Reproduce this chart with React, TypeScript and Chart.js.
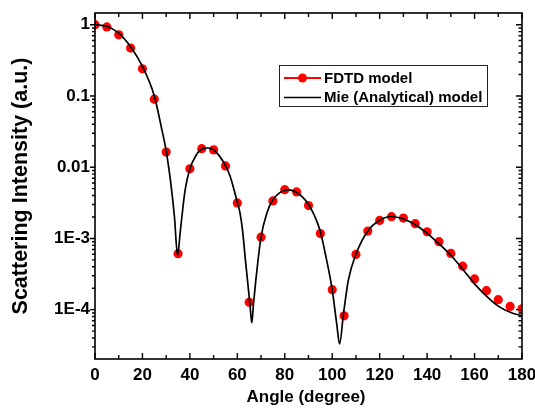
import React, { useEffect, useRef } from "react";
import { Chart, registerables } from "chart.js";
Chart.register(...registerables);

const fdtdAngles = [0, 5, 10, 15, 20, 25, 30, 35, 40, 45, 50, 55, 60, 65, 70, 75, 80, 85, 90, 95, 100, 105, 110, 115, 120, 125, 130, 135, 140, 145, 150, 155, 160, 165, 170, 175, 180];
const fdtdValues = [1.0, 0.93, 0.72, 0.47, 0.24, 0.09, 0.0163, 6.1e-4, 0.0095, 0.0182, 0.0175, 0.0104, 0.00315, 1.27e-4, 1.04e-3, 0.00336, 0.00484, 0.0045, 0.00289, 1.17e-3, 1.91e-4, 8.2e-5, 5.96e-4, 1.27e-3, 1.79e-3, 2.02e-3, 1.93e-3, 1.61e-3, 1.24e-3, 9.0e-4, 6.15e-4, 4.08e-4, 2.7e-4, 1.85e-4, 1.38e-4, 1.11e-4, 1.03e-4];

const mieAngles = [0, 5, 10, 15, 20, 25, 28, 30, 32, 33.5, 34.8, 36, 38, 40, 42.5, 45, 47.5, 50, 52.5, 55, 57, 59.7, 61.1, 62.2, 63.4, 64.5, 65.4, 66.1, 66.8, 67.8, 70, 72.5, 75, 77.5, 80, 82, 85, 87.5, 90, 92.5, 95, 97, 100, 101.9, 103.1, 104.7, 106.8, 110, 115, 120, 125, 130, 135, 140, 145, 150, 155, 160, 165, 170, 175, 180];
const mieValues = [1.0, 0.95, 0.76, 0.49, 0.26, 0.1, 0.036, 0.017, 0.0058, 0.002, 5.8e-4, 1.3e-3, 4.8e-3, 0.0095, 0.0145, 0.018, 0.0186, 0.0175, 0.0143, 0.0105, 0.0074, 0.0035, 0.0023, 0.0013, 5.0e-4, 2.2e-4, 1.1e-4, 6.5e-5, 1.2e-4, 2.6e-4, 1.05e-3, 2.3e-3, 3.5e-3, 4.3e-3, 4.7e-3, 4.8e-3, 4.4e-3, 3.8e-3, 3.0e-3, 2.1e-3, 1.25e-3, 6.3e-4, 1.9e-4, 6.3e-5, 3.3e-5, 8.5e-5, 2.6e-4, 6.0e-4, 1.27e-3, 1.8e-3, 2.03e-3, 1.87e-3, 1.56e-3, 1.18e-3, 8.4e-4, 5.8e-4, 3.7e-4, 2.3e-4, 1.55e-4, 1.12e-4, 9.2e-5, 8.2e-5];

const xTickValues = [0, 20, 40, 60, 80, 100, 120, 140, 160, 180];
const xMinorValues = [10, 30, 50, 70, 90, 110, 130, 150, 170];
const yTickValues = [1e-4, 1e-3, 1e-2, 1e-1, 1];
const yTickLabels = ["1E-4", "1E-3", "0.01", "0.1", "1"];

const seriesLabels = ["FDTD model", "Mie (Analytical) model"];
const xTitle = "Angle (degree)";
const yTitle = "Scattering Intensity (a.u.)";

const FONT = "'Liberation Sans', Arial, Helvetica, sans-serif";

const framePlugin = {
  id: "frameTicksLegend",
  afterDraw(chart: any) {
    const { ctx, chartArea: a, scales } = chart;
    const xs = scales.x;
    const ys = scales.y;
    ctx.save();
    ctx.strokeStyle = "#000";
    ctx.lineWidth = 1.6;
    ctx.strokeRect(a.left, a.top, a.right - a.left, a.bottom - a.top);
    ctx.lineWidth = 1.4;
    ctx.beginPath();
    const tickX = (v: number, len: number) => {
      const px = xs.getPixelForValue(v);
      ctx.moveTo(px, a.bottom);
      ctx.lineTo(px, a.bottom - len);
      ctx.moveTo(px, a.top);
      ctx.lineTo(px, a.top + len);
    };
    xTickValues.forEach((v) => tickX(v, 6));
    xMinorValues.forEach((v) => tickX(v, 4));
    const yMin = ys.min;
    const yMax = ys.max;
    for (let d = -6; d <= 1; d++) {
      for (let m = 1; m <= 9; m++) {
        const v = m * Math.pow(10, d);
        if (v < yMin || v > yMax) continue;
        const py = ys.getPixelForValue(v);
        const len = m === 1 ? 5 : 3;
        ctx.moveTo(a.left, py);
        ctx.lineTo(a.left - len, py);
        ctx.moveTo(a.right, py);
        ctx.lineTo(a.right - (m === 1 ? 6 : 3.5), py);
      }
    }
    ctx.stroke();

    // legend
    const lx = 279, ly = 65, lw = 208, lh = 41;
    ctx.fillStyle = "#fff";
    ctx.fillRect(lx, ly, lw, lh);
    ctx.strokeStyle = "#222";
    ctx.lineWidth = 1;
    ctx.strokeRect(lx + 0.5, ly + 0.5, lw, lh);
    const rows = [ly + 13, ly + 32.5];
    ctx.lineWidth = 1.8;
    ctx.strokeStyle = "#ff0000";
    ctx.beginPath();
    ctx.moveTo(284, rows[0]);
    ctx.lineTo(321, rows[0]);
    ctx.stroke();
    ctx.fillStyle = "#ff0000";
    ctx.beginPath();
    ctx.arc(302.5, rows[0], 4.5, 0, Math.PI * 2);
    ctx.fill();
    ctx.strokeStyle = "#000";
    ctx.lineWidth = 1.6;
    ctx.beginPath();
    ctx.moveTo(284, rows[1]);
    ctx.lineTo(321, rows[1]);
    ctx.stroke();
    ctx.fillStyle = "#000";
    ctx.font = `bold 15px ${FONT}`;
    ctx.textAlign = "left";
    ctx.textBaseline = "middle";
    ctx.fillText(chart.data.datasets[1].label, 324, rows[0] + 0.5);
    ctx.fillText(chart.data.datasets[0].label, 324, rows[1] + 0.5);

    // axis titles
    ctx.font = `bold 17px ${FONT}`;
    ctx.textAlign = "center";
    ctx.fillText(xTitle, 306, 397);
    ctx.save();
    ctx.translate(21, 186);
    ctx.rotate(-Math.PI / 2);
    ctx.font = `bold 21.5px ${FONT}`;
    ctx.fillText(yTitle, 0, 0);
    ctx.restore();
    ctx.restore();
  },
};

export default function App() {
  const ref = useRef<HTMLCanvasElement | null>(null);
  useEffect(() => {
    if (!ref.current) return;
    const chart = new Chart(ref.current, {
      type: "line",
      data: {
        datasets: [
          {
            label: seriesLabels[1],
            data: mieAngles.map((x, i) => ({ x, y: mieValues[i] })),
            borderColor: "#000",
            borderWidth: 1.7,
            pointRadius: 0,
            cubicInterpolationMode: "monotone",
            fill: false,
            order: 1,
          },
          {
            label: seriesLabels[0],
            data: fdtdAngles.map((x, i) => ({ x, y: fdtdValues[i] })),
            showLine: false,
            pointRadius: 4.6,
            pointBackgroundColor: "#ff0000",
            pointBorderWidth: 0,
            borderColor: "#ff0000",
            order: 2,
          },
        ],
      },
      options: {
        animation: false,
        responsive: true,
        maintainAspectRatio: false,
        layout: { padding: { top: 13, right: 13, left: 0, bottom: 0 } },
        plugins: { legend: { display: false }, tooltip: { enabled: false } },
        scales: {
          x: {
            type: "linear",
            min: 0,
            max: 180,
            grid: { display: false, drawTicks: false },
            border: { display: false },
            afterBuildTicks: (s: any) => {
              s.ticks = xTickValues.map((v) => ({ value: v }));
            },
            ticks: {
              autoSkip: false,
              maxRotation: 0,
              padding: 6,
              color: "#000",
              font: { family: FONT, size: 17, weight: "bold" },
            },
            afterFit: (s: any) => {
              s.height = 57;
              s.paddingLeft = 0;
              s.paddingRight = 0;
            },
          },
          y: {
            type: "logarithmic",
            min: 2.03e-5,
            max: 1.46,
            grid: { display: false, drawTicks: false },
            border: { display: false },
            afterBuildTicks: (s: any) => {
              s.ticks = yTickValues.map((v) => ({ value: v }));
            },
            ticks: {
              autoSkip: false,
              padding: 5,
              color: "#000",
              font: { family: FONT, size: 17, weight: "bold" },
              callback: (_v: any, i: number) => yTickLabels[i],
            },
            afterFit: (s: any) => {
              s.width = 95;
              s.paddingTop = 0;
              s.paddingBottom = 0;
            },
          },
        },
      },
      plugins: [framePlugin],
    } as any);
    return () => chart.destroy();
  }, []);
  return (
    <div style={{ position: "fixed", left: 0, top: 0, width: 535, height: 416, background: "#fff" }}>
      <canvas ref={ref} />
    </div>
  );
}
